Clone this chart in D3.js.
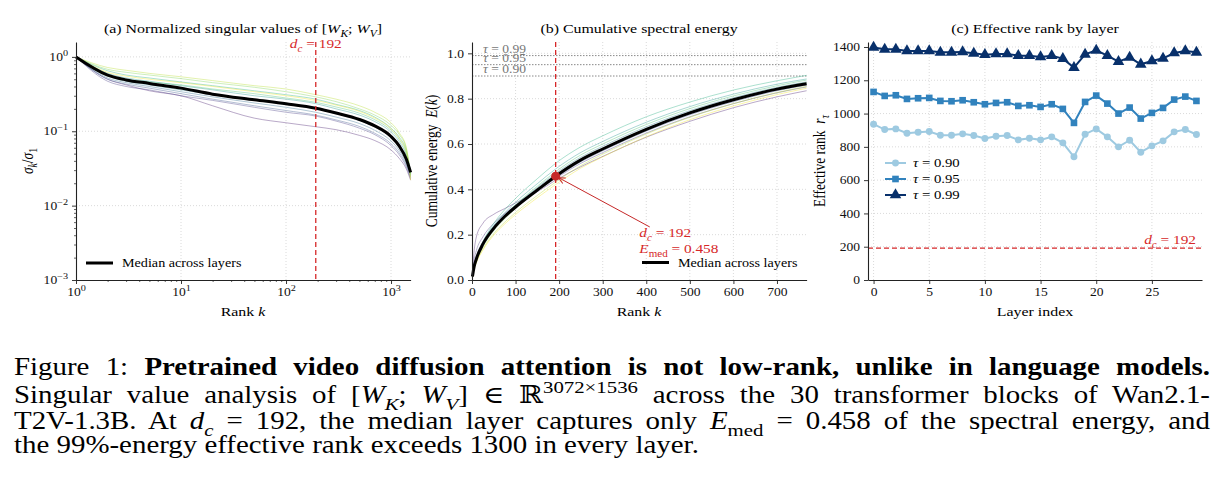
<!DOCTYPE html>
<html><head><meta charset="utf-8">
<script src="https://cdn.jsdelivr.net/npm/d3@7"></script>
<style>
body{margin:0;background:#fff}
svg{display:block}
text{font-family:"Liberation Serif","DejaVu Serif",serif; white-space:pre}
</style>
</head><body>
<svg id="c" width="1225" height="496"></svg>
<script>
// ---------------- DATA ----------------
// Panel (a): normalized singular values sigma_k/sigma_1 at these ranks
const ranksA = [1,2,3,5,10,20,50,100,192,300,500,700,1000,1200,1400,1536];
const medianA = [1,0.57,0.49,0.44,0.38,0.315,0.265,0.234,0.204,0.176,0.144,0.118,0.085,0.063,0.042,0.028];
const layersA = [
  [1,0.50,0.42,0.35,0.30,0.22,0.15,0.13,0.115,0.105,0.088,0.075,0.056,0.043,0.031,0.022],
  [1,0.47,0.40,0.36,0.30,0.26,0.21,0.18,0.16,0.137,0.11,0.09,0.064,0.048,0.033,0.023],
  [1,0.50,0.43,0.38,0.32,0.27,0.22,0.19,0.165,0.142,0.116,0.094,0.068,0.051,0.035,0.024],
  [1,0.52,0.45,0.40,0.34,0.29,0.24,0.21,0.18,0.155,0.127,0.103,0.074,0.055,0.037,0.025],
  [1,0.55,0.47,0.42,0.36,0.31,0.26,0.23,0.20,0.172,0.14,0.114,0.082,0.061,0.04,0.026],
  [1,0.60,0.52,0.47,0.41,0.36,0.30,0.27,0.235,0.20,0.165,0.135,0.097,0.072,0.047,0.027],
  [1,0.65,0.57,0.52,0.46,0.41,0.35,0.31,0.27,0.23,0.19,0.155,0.11,0.083,0.054,0.028],
  [1,0.58,0.50,0.46,0.42,0.37,0.32,0.28,0.245,0.212,0.175,0.143,0.103,0.077,0.05,0.027],
  [1,0.68,0.62,0.57,0.51,0.45,0.39,0.34,0.29,0.25,0.20,0.165,0.12,0.09,0.058,0.026],
  [1,0.72,0.66,0.60,0.54,0.48,0.41,0.37,0.31,0.27,0.22,0.18,0.13,0.095,0.06,0.024],
  [1,0.62,0.55,0.50,0.45,0.40,0.34,0.30,0.26,0.225,0.185,0.15,0.108,0.08,0.052,0.022]
];
// Panel (b): cumulative spectral energy E(k)
const ranksB = [1,5,10,25,50,75,100,150,192,250,300,400,500,600,700,768];
const medianB = [0.015,0.06,0.093,0.158,0.228,0.28,0.322,0.397,0.458,0.53,0.578,0.665,0.737,0.795,0.842,0.866];
const layersB = [
  [0.04,0.13,0.19,0.25,0.29,0.315,0.34,0.39,0.44,0.50,0.545,0.63,0.70,0.76,0.808,0.835],
  [0.03,0.09,0.13,0.19,0.25,0.293,0.33,0.395,0.448,0.515,0.562,0.648,0.72,0.778,0.826,0.852],
  [0.02,0.07,0.105,0.17,0.238,0.287,0.326,0.396,0.452,0.522,0.57,0.657,0.729,0.787,0.835,0.86],
  [0.015,0.062,0.096,0.161,0.232,0.283,0.325,0.398,0.457,0.528,0.576,0.663,0.735,0.793,0.84,0.865],
  [0.015,0.06,0.092,0.158,0.232,0.286,0.33,0.408,0.47,0.542,0.59,0.676,0.747,0.804,0.85,0.874],
  [0.015,0.062,0.095,0.162,0.24,0.296,0.343,0.425,0.49,0.563,0.611,0.696,0.765,0.82,0.864,0.887],
  [0.015,0.064,0.098,0.168,0.25,0.31,0.36,0.447,0.515,0.588,0.636,0.72,0.785,0.838,0.879,0.903],
  [0.015,0.058,0.09,0.155,0.23,0.285,0.332,0.414,0.478,0.552,0.60,0.686,0.756,0.812,0.857,0.882],
  [0.012,0.054,0.085,0.146,0.218,0.27,0.315,0.394,0.456,0.53,0.579,0.667,0.74,0.798,0.845,0.871],
  [0.01,0.05,0.079,0.137,0.205,0.255,0.298,0.373,0.432,0.505,0.555,0.644,0.718,0.778,0.827,0.854],
  [0.01,0.048,0.076,0.132,0.198,0.247,0.289,0.363,0.421,0.494,0.543,0.632,0.707,0.768,0.818,0.846]
];
const tauLevels = [0.99, 0.95, 0.90];
const dc = 192;
const eMed = 0.458;
// Panel (c): effective rank per layer
const layerIdx = d3.range(30);
const rank90 = [936,904,908,882,888,892,870,870,878,868,850,864,868,842,852,842,860,824,740,876,908,860,800,840,768,806,836,890,904,874];
const rank95 = [1130,1106,1110,1088,1092,1094,1076,1074,1080,1068,1056,1064,1068,1046,1050,1040,1056,1028,944,1070,1108,1060,1000,1036,970,1004,1034,1084,1102,1076];
const rank99 = [1397,1386,1386,1376,1376,1376,1368,1368,1370,1362,1354,1358,1358,1348,1348,1340,1348,1330,1276,1356,1380,1348,1312,1338,1296,1316,1332,1364,1376,1368];
const tauLabels = ["0.90","0.95","0.99"];

// ---------------- HELPERS ----------------
const svg = d3.select('#c');
svg.append('rect').attr('width',1225).attr('height',496).attr('fill','#fff');
const RED = '#d62728';
const FS = 11.5;       // tick label size
const SX = 1.18;       // horizontal glyph stretch of the reference

function rich(sel, segs, size){
  let shift = 0;
  segs.forEach(s=>{
    const txt = s[0], st = (s[1]||'').split(' ');
    const ts = sel.append('tspan').text(txt);
    let target = 0;
    if (st.includes('sub')) target = 0.28*size;
    if (st.includes('sup')) target = -0.42*size;
    if (target - shift !== 0) ts.attr('dy', target - shift);
    shift = target;
    if (st.includes('sub')||st.includes('sup')) ts.attr('font-size', size*0.72);
    if (st.includes('i')) ts.attr('font-style','italic');
    if (st.includes('b')) ts.attr('font-weight','bold');
  });
  return sel;
}
function label(x,y,segs,size,opts={}){
  const t = svg.append('text').attr('x',0).attr('y',0).attr('font-size',size)
    .attr('text-anchor',opts.anchor||'start').attr('fill',opts.fill||'#000')
    .attr('transform',`translate(${x},${y}) scale(${SX},1)` + (opts.rotate?' rotate(-90)':''));
  return rich(t,segs,size);
}
function stretchTicks(g){
  g.selectAll('.tick text').attr('transform',function(){
    const x=+this.getAttribute('x')||0, y=+this.getAttribute('y')||0;
    return `translate(${x},${y}) scale(${SX},1) translate(${-x},${-y})`;
  });
}
function styleAxis(g){
  g.attr('font-family','"Liberation Serif","DejaVu Serif",serif').attr('font-size',FS);
  g.select('.domain').attr('stroke','#222').attr('stroke-width',1.1);
  g.selectAll('.tick line').attr('stroke','#222').attr('stroke-width',0.9);
  g.selectAll('.tick text').attr('fill','#111');
  stretchTicks(g);
}
function grid(xs, ys, xScale, yScale){
  const gg = svg.append('g');
  xs.forEach(v=>gg.append('line').attr('x1',xScale(v)).attr('x2',xScale(v))
    .attr('y1',yScale.range()[0]).attr('y2',yScale.range()[1]));
  ys.forEach(v=>gg.append('line').attr('y1',yScale(v)).attr('y2',yScale(v))
    .attr('x1',xScale.range()[0]).attr('x2',xScale.range()[1]));
  gg.selectAll('line').attr('stroke','#d0d0d0').attr('stroke-width',0.8).attr('stroke-dasharray','1,2');
}
const viridis = t => d3.interpolateViridis(0.08 + 0.9*t);

// ---------------- PANEL A ----------------
const xA = d3.scaleLog().domain([1,1536]).range([76,410.6]);
const yA = d3.scaleLog().domain([1e-3, Math.pow(10,0.2)]).range([280,42]);
grid([10,100,1000],[1e-2,1e-1,1],xA,yA);
const lineA = d3.line().x((d,i)=>xA(ranksA[i])).y(d=>yA(d)).curve(d3.curveMonotoneX);
layersA.forEach((v,i)=>{
  svg.append('path').attr('d',lineA(v)).attr('fill','none')
    .attr('stroke',viridis(i/(layersA.length-1))).attr('stroke-opacity',0.38).attr('stroke-width',1);
});
svg.append('path').attr('d',lineA(medianA)).attr('fill','none').attr('stroke','#000').attr('stroke-width',3);
svg.append('line').attr('x1',xA(dc)).attr('x2',xA(dc)).attr('y1',42).attr('y2',280)
  .attr('stroke',RED).attr('stroke-width',1.3).attr('stroke-dasharray','5,3');
label(xA(dc),48,[['d','i'],['c','i sub'],[' = 192']],13,{anchor:'middle',fill:RED});
// axes
const minorA = [];
[1,10,100].forEach(b=>{for(let m=2;m<=9;m++){ if(b*m<=1536) minorA.push(b*m);} });
const minorAy = [];
[1e-3,1e-2,1e-1].forEach(b=>{for(let m=2;m<=9;m++) minorAy.push(b*m);});
const gAx = svg.append('g').attr('transform','translate(0,280)')
  .call(d3.axisBottom(xA).tickValues([1,10,100,1000]).tickSize(4).tickPadding(4).tickSizeOuter(0).tickFormat(''));
styleAxis(gAx);
svg.append('g').attr('transform','translate(0,280)')
  .call(d3.axisBottom(xA).tickValues(minorA).tickSize(2).tickFormat('').tickSizeOuter(0))
  .call(g=>{g.select('.domain').remove(); g.selectAll('line').attr('stroke','#222').attr('stroke-width',0.7);});
gAx.selectAll('.tick text').each(function(d){
  const t=d3.select(this); t.text('');
  rich(t,[['10'],[String(Math.round(Math.log10(d))).replace('-','−'),'sup']],12);
});
const gAy = svg.append('g').attr('transform','translate(76,0)')
  .call(d3.axisLeft(yA).tickValues([1e-3,1e-2,1e-1,1]).tickSize(4).tickPadding(4).tickSizeOuter(0).tickFormat(''));
styleAxis(gAy);
svg.append('g').attr('transform','translate(76,0)')
  .call(d3.axisLeft(yA).tickValues(minorAy).tickSize(2).tickFormat('').tickSizeOuter(0))
  .call(g=>{g.select('.domain').remove(); g.selectAll('line').attr('stroke','#222').attr('stroke-width',0.7);});
gAy.selectAll('.tick text').each(function(d){
  const t=d3.select(this); t.text('');
  rich(t,[['10'],[String(Math.round(Math.log10(d))).replace('-','−'),'sup']],12);
});
label(243,33,[['(a) Normalized singular values of ['],['W','i'],['K','i sub'],['; '],['W','i'],['V','i sub'],[']']],13.5,{anchor:'middle'});
label(243,316,[['Rank '],['k','i']],13.5,{anchor:'middle'});
label(33,161,[['σ','i'],['k','i sub'],['/'],['σ','i'],['1','sub']],13.5,{anchor:'middle',rotate:true});
// legend A
svg.append('line').attr('x1',86).attr('x2',113).attr('y1',263).attr('y2',263).attr('stroke','#000').attr('stroke-width',3);
label(122,267,[['Median across layers']],12);

// ---------------- PANEL B ----------------
const xB = d3.scaleLinear().domain([0,768]).range([472,806.6]);
const yB = d3.scaleLinear().domain([0,1.05]).range([280,42]);
grid([100,200,300,400,500,600,700],[0.2,0.4,0.6,0.8,1.0],xB,yB);
tauLevels.forEach(tv=>{
  svg.append('line').attr('x1',472).attr('x2',806.6).attr('y1',yB(tv)).attr('y2',yB(tv))
    .attr('stroke','#888').attr('stroke-width',1).attr('stroke-dasharray','1.5,1.5');
  label(483,yB(tv)-3,[['τ','i'],[' = '+tv.toFixed(2)]],11.5,{fill:'#777'});
});
const lineB = d3.line().x((d,i)=>xB(ranksB[i])).y(d=>yB(d)).curve(d3.curveMonotoneX);
layersB.forEach((v,i)=>{
  svg.append('path').attr('d',lineB(v)).attr('fill','none')
    .attr('stroke',viridis(i/(layersB.length-1))).attr('stroke-opacity',0.38).attr('stroke-width',1);
});
svg.append('path').attr('d',lineB(medianB)).attr('fill','none').attr('stroke','#000').attr('stroke-width',3);
svg.append('line').attr('x1',xB(dc)).attr('x2',xB(dc)).attr('y1',42).attr('y2',280)
  .attr('stroke',RED).attr('stroke-width',1.3).attr('stroke-dasharray','5,3');
svg.append('circle').attr('cx',xB(dc)).attr('cy',yB(eMed)).attr('r',4.5).attr('fill','#c62828');
// annotation arrow
const defs = svg.append('defs');
defs.append('marker').attr('id','arr').attr('viewBox','0 0 10 10').attr('refX',9).attr('refY',5)
  .attr('markerWidth',8).attr('markerHeight',8).attr('orient','auto-start-reverse')
  .append('path').attr('d','M1,1 L9,5 L1,9').attr('fill','none').attr('stroke','#c62828').attr('stroke-width',1.3);
const annTail = [408, 0.234];
svg.append('line').attr('x1',xB(annTail[0])).attr('y1',yB(annTail[1]))
  .attr('x2',xB(dc)+3).attr('y2',yB(eMed)+1.5)
  .attr('stroke','#c62828').attr('stroke-width',1).attr('marker-end','url(#arr)');
label(xB(384),237,[['d','i'],['c','i sub'],[' = 192']],13,{fill:RED});
label(xB(384),253,[['E','i'],['med','sub'],[' = '+eMed]],13,{fill:RED});
svg.append('line').attr('x1',642).attr('x2',669).attr('y1',262.5).attr('y2',262.5).attr('stroke','#000').attr('stroke-width',3);
label(678,266.5,[['Median across layers']],12);
const gBx = svg.append('g').attr('transform','translate(0,280)')
  .call(d3.axisBottom(xB).tickValues([0,100,200,300,400,500,600,700]).tickSize(4).tickPadding(4).tickSizeOuter(0));
styleAxis(gBx);
const gBy = svg.append('g').attr('transform','translate(472,0)')
  .call(d3.axisLeft(yB).tickValues([0,0.2,0.4,0.6,0.8,1.0]).tickFormat(d3.format('.1f')).tickSize(4).tickPadding(4).tickSizeOuter(0));
styleAxis(gBy);
label(639,33,[['(b) Cumulative spectral energy']],13.5,{anchor:'middle'});
label(639,316,[['Rank '],['k','i']],13.5,{anchor:'middle'});
label(437,161,[['Cumulative energy  '],['E','i'],['('],['k','i'],[')']],13.5,{anchor:'middle',rotate:true});

// ---------------- PANEL C ----------------
const xC = d3.scaleLinear().domain([-0.5,29.5]).range([868,1202]);
const yC = d3.scaleLinear().domain([0,1430]).range([280,42]);
grid([0,5,10,15,20,25],[200,400,600,800,1000,1200,1400],xC,yC);
svg.append('line').attr('x1',868).attr('x2',1202).attr('y1',yC(dc)).attr('y2',yC(dc))
  .attr('stroke',RED).attr('stroke-width',1.3).attr('stroke-dasharray','5,3');
label(1196,yC(dc)-4,[['d','i'],['c','i sub'],[' = 192']],13,{anchor:'end',fill:RED});
const seriesC = [rank90, rank95, rank99];
const colorsC = ['#9ecae1','#3182bd','#08306b'];
const symbolsC = [d3.symbolCircle, d3.symbolSquare, d3.symbolTriangle];
const sizesC = [38, 44, 58];
const lineC = d3.line().x((d,i)=>xC(layerIdx[i])).y(d=>yC(d));
seriesC.forEach((s,k)=>{
  svg.append('path').attr('d',lineC(s)).attr('fill','none').attr('stroke',colorsC[k]).attr('stroke-width',2);
  s.forEach((v,i)=>{
    svg.append('path').attr('d',d3.symbol().type(symbolsC[k]).size(sizesC[k])())
      .attr('transform',`translate(${xC(layerIdx[i])},${yC(v)})`).attr('fill',colorsC[k]);
  });
});
// legend C
tauLabels.forEach((lab,k)=>{
  const y = 163 + k*16;
  svg.append('line').attr('x1',885).attr('x2',906).attr('y1',y).attr('y2',y).attr('stroke',colorsC[k]).attr('stroke-width',2);
  svg.append('path').attr('d',d3.symbol().type(symbolsC[k]).size(sizesC[k])())
    .attr('transform',`translate(895.5,${y})`).attr('fill',colorsC[k]);
  label(913,y+4,[['τ','i'],[' = '+lab]],12.5);
});
const gCx = svg.append('g').attr('transform','translate(0,280)')
  .call(d3.axisBottom(xC).tickValues([0,5,10,15,20,25]).tickSize(4).tickPadding(4).tickSizeOuter(0));
styleAxis(gCx);
const gCy = svg.append('g').attr('transform','translate(868,0)')
  .call(d3.axisLeft(yC).tickValues([0,200,400,600,800,1000,1200,1400]).tickFormat(d3.format('d')).tickSize(4).tickPadding(4).tickSizeOuter(0));
styleAxis(gCy);
label(1035,33,[['(c) Effective rank by layer']],13.5,{anchor:'middle'});
label(1035,316,[['Layer index']],13.5,{anchor:'middle'});
label(825,161,[['Effective rank  '],['r','i'],['τ','i sub']],13.5,{anchor:'middle',rotate:true});

// ---------------- CAPTION ----------------
const CAP = 24.5;
const capLines = [
  [['Figure 1: '],['Pretrained video diffusion attention is not low-rank, unlike in language models.','b']],
  [['Singular value analysis of ['],['W','i'],['K','i sub'],['; '],['W','i'],['V','i sub'],['] ∈ ℝ'],['3072×1536','sup'],[' across the 30 transformer blocks of Wan2.1-']],
  [['T2V-1.3B. At '],['d','i'],['c','i sub'],[' = 192, the median layer captures only '],['E','i'],['med','sub'],[' = 0.458 of the spectral energy, and']],
  [['the 99%-energy effective rank exceeds 1300 in every layer.']]
];
const capY = [375, 403, 429, 453];
capLines.forEach((segs,i)=>{
  const t = label(14, capY[i], segs, CAP);
  if (i < 3) {
    const w = t.node().getComputedTextLength();
    const n = segs.map(s=>s[0]).join('').split(' ').length - 1;
    t.attr('word-spacing', Math.max(0,((1210 - 14)/SX - w)/n));
  }
});
</script>
</body></html>
